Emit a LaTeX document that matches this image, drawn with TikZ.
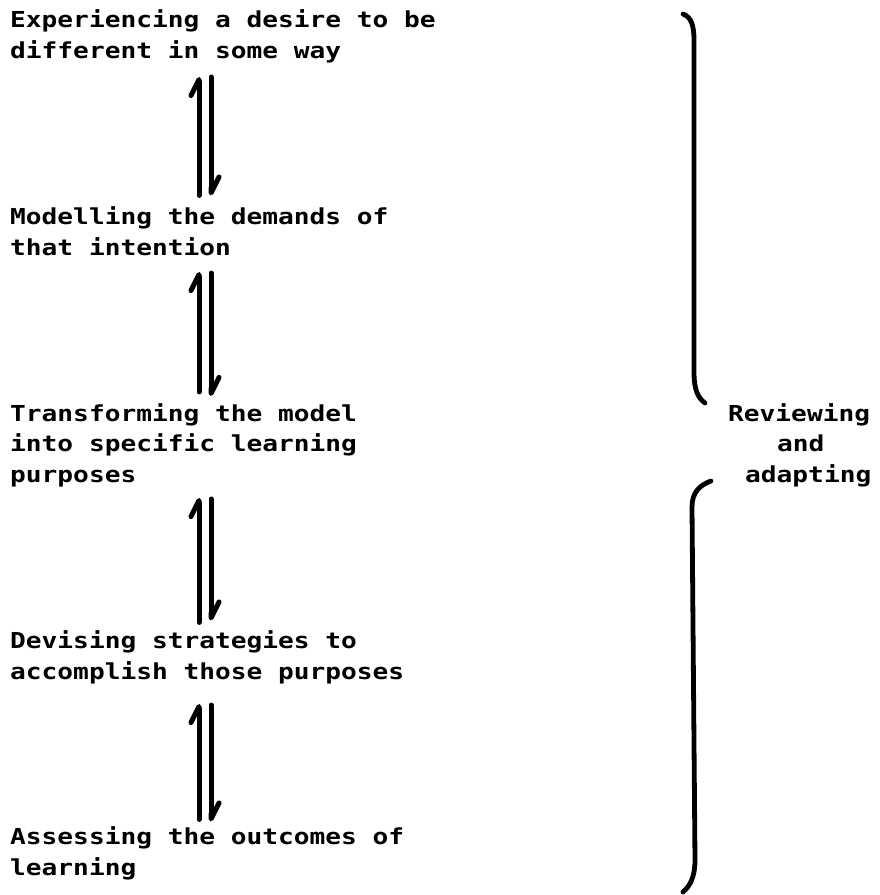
\documentclass[tikz,border=0pt]{standalone}
\usepackage{fontspec}
\usetikzlibrary{arrows.meta}
\newfontfamily\typer[FakeStretch=1.19,BoldFont={DejaVu Sans Mono Bold}]{DejaVu Sans Mono}
\begin{document}
\begin{tikzpicture}[x=1pt,y=-1pt,
  % base anchor of a multi-line stage sits on its last line
  stage/.style={inner sep=0pt, anchor=base west, align=left,
    font=\typer\bfseries\fontsize{22}{30.5}\selectfont},
  sidetext/.style={inner sep=0pt, anchor=base west,
    font=\typer\bfseries\fontsize{22}{30.5}\selectfont},
  shaft/.style={line width=5pt, line cap=round,
    -{Straight Barb[harpoon, length=16pt, width=16pt, line cap=round, line join=round]}},
  bracepart/.style={line width=4.8pt, line cap=round}]
  \useasboundingbox (0,0) rectangle (880,895);

  % stages of the cycle
  \node[stage] (b1) at (10,58)  {Experiencing a desire to be\\different in some way};
  \node[stage] (b2) at (10,255) {Modelling the demands of\\that intention};
  \node[stage] (b3) at (10,482) {Transforming the model\\into specific learning\\purposes};
  \node[stage] (b4) at (10,679) {Devising strategies to\\accomplish those purposes};
  \node[stage] (b5) at (10,875) {Assessing the outcomes of\\learning};

  % columns of the two-way arrows
  \coordinate (ux) at (199,0);
  \coordinate (dx) at (211,0);

  \draw[shaft] ([yshift=11pt]b2.north -| ux) -- ([yshift=-19pt]b1.base -| ux);
  \draw[shaft] ([yshift=-19pt]b1.base -| dx) -- ([yshift=11pt]b2.north -| dx);
  \draw[shaft] ([yshift=11pt]b3.north -| ux) -- ([yshift=-17pt]b2.base -| ux);
  \draw[shaft] ([yshift=-18pt]b2.base -| dx) -- ([yshift=7pt]b3.north -| dx);
  \draw[shaft] ([yshift=8pt]b4.north -| ux) -- ([yshift=-16pt]b3.base -| ux);
  \draw[shaft] ([yshift=-17pt]b3.base -| dx) -- ([yshift=10pt]b4.north -| dx);
  \draw[shaft] ([yshift=7pt]b5.north -| ux) -- ([yshift=-25pt]b4.base -| ux);
  \draw[shaft] ([yshift=-26pt]b4.base -| dx) -- ([yshift=5pt]b5.north -| dx);

  % label of the overall loop
  \node[sidetext] (r1) at (728,421) {Reviewing};
  \node[sidetext] (r2) at (777,451) {and};
  \node[sidetext] (r3) at (745,482) {adapting};

  % the brace, split around the label
  \draw[bracepart] (683,14) .. controls (691,17) and (694,25) .. (694,40)
    -- (694,372) .. controls (694,390) and (698,398) .. (705,403);
  \draw[bracepart] (711,481) .. controls (700,485) and (692,492) .. (692,507)
    -- (695,860) .. controls (695,877) and (690,886) .. (683,892);
\end{tikzpicture}
\end{document}
